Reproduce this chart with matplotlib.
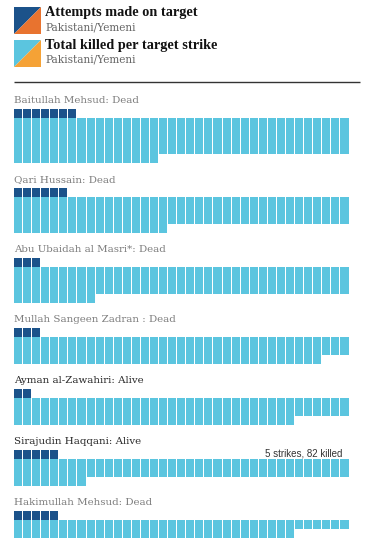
import math
import matplotlib
matplotlib.use("Agg")
import matplotlib.pyplot as plt
from matplotlib.patches import Polygon

# ---- data ----
names = ["Baitullah Mehsud: Dead", "Qari Hussain: Dead", "Abu Ubaidah al Masri*: Dead",
         "Mullah Sangeen Zadran : Dead", "Ayman al-Zawahiri: Alive",
         "Sirajudin Haqqani: Alive", "Hakimullah Mehsud: Dead"]
status_alive = [False, False, False, False, True, True, False]
attempts = [7, 6, 3, 3, 2, 5, 5]
killed = [164, 128, 120, 108, 105, 82, 68]
annotation = "5 strikes, 82 killed"
annot_index = 5
legend_titles = ["Attempts made on target", "Total killed per target strike"]
legend_sub = "Pakistani/Yemeni"

# ---- style ----
W, H = 367, 548
NCOL = 37
X0 = 14.0
PITCH = (349.5 - 14.0) / NCOL
CELL_W = PITCH - 1.0
ROW_H = 9.0
DARK = "#1b528a"
LIGHT = "#5bc5df"
ORANGE = "#e8732f"
ORANGE_L = "#f5a236"
SERIF = ["DejaVu Serif"]
SERIF_B = ["Liberation Serif", "DejaVu Serif"]

fig = plt.figure(figsize=(W / 100, H / 100), dpi=100)
ax = fig.add_axes([0, 0, 1, 1])
ax.set_xlim(0, W)
ax.set_ylim(H, 0)
ax.axis("off")

# ---- legend ----
icon_cols = [(DARK, ORANGE), (LIGHT, ORANGE_L)]
icon_tops = [7, 40]
for (c1, c2), top, title in zip(icon_cols, icon_tops, legend_titles):
    s = 27
    ax.add_patch(Polygon([(14, top), (14 + s, top), (14, top + s)], closed=True,
                         facecolor=c1, edgecolor="none"))
    ax.add_patch(Polygon([(14 + s, top), (14 + s, top + s), (14, top + s)], closed=True,
                         facecolor=c2, edgecolor="none"))
    ax.text(45, top + 5.5, title, fontsize=10.3, fontweight="bold", family=SERIF_B,
            color="#121212", va="center", ha="left")
    ax.text(45, top + 20, legend_sub, fontsize=7.6, family=SERIF,
            color="#666666", va="center", ha="left")

ax.plot([14, 360], [82, 82], color="#333333", lw=1.0, solid_capstyle="butt")

# ---- waffle blocks ----
att_top = 109.0
for i, (name, alive, a, k) in enumerate(zip(names, status_alive, attempts, killed)):
    full_rows = k // NCOL
    rem = k % NCOL
    nrows = math.ceil(k / NCOL)
    ax.text(X0, att_top - 8.5, name, fontsize=7.4, family=SERIF,
            color="#2a2a2a" if alive else "#7d7d7d", va="center", ha="left")
    # attempts
    cols_a = list(range(a))
    ax.bar([X0 + c * PITCH for c in cols_a], [ROW_H] * a, bottom=att_top,
           width=CELL_W, align="edge", color=DARK, linewidth=0)
    # killed
    cols = list(range(NCOL))
    heights = [(full_rows + (1 if c < rem else 0)) * ROW_H for c in cols]
    ax.bar([X0 + c * PITCH for c in cols], heights, bottom=att_top + ROW_H,
           width=CELL_W, align="edge", color=LIGHT, linewidth=0)
    if i == annot_index:
        ax.text(342, att_top + 4, annotation, fontsize=7.0, family=["Liberation Sans", "DejaVu Sans"],
                color="#333333", va="center", ha="right")
    att_top = att_top + ROW_H + nrows * ROW_H + 25

fig.savefig("out.png", dpi=100)
